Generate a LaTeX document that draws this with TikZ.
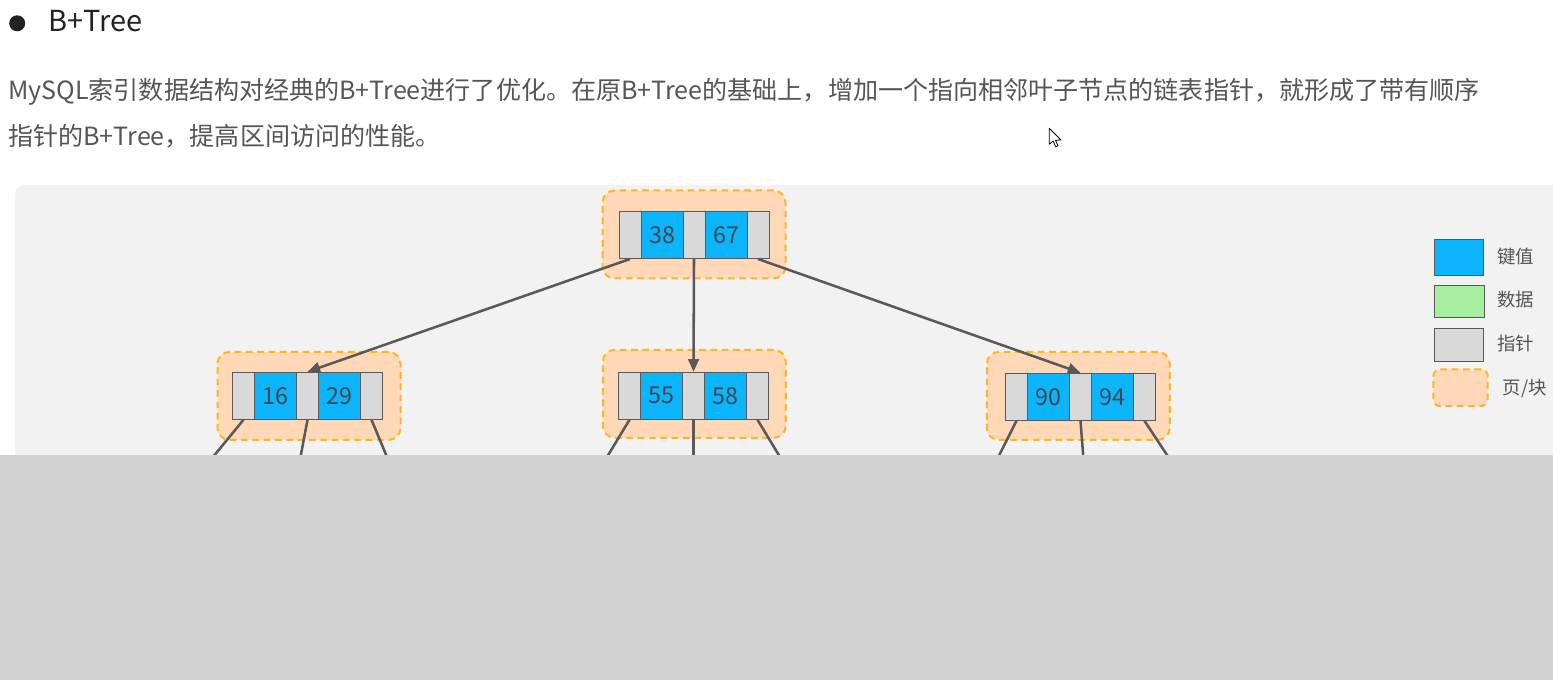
\documentclass[tikz,border=0pt]{standalone}
\usepackage{fontspec}
\setmainfont{Noto Sans CJK SC}
\usetikzlibrary{arrows.meta}
\definecolor{keyblue}{HTML}{0CB4FB}
\definecolor{ptrgray}{HTML}{D9D9D9}
\definecolor{pagefill}{HTML}{FFD9B7}
\definecolor{pageedge}{HTML}{FFB51F}
\definecolor{datagreen}{HTML}{A7EE9E}
\definecolor{linegray}{HTML}{595959}
\definecolor{panelgray}{HTML}{F2F2F2}
\definecolor{overlaygray}{HTML}{D3D3D3}
\definecolor{textgray}{HTML}{555555}
\definecolor{numgray}{HTML}{404850}
\definecolor{titlecol}{HTML}{222222}
\newcommand\btnode[7]{%
  \node[pagebox] (#1) at (#2,#3) {};
  \node[ptrcell] (#1p1) at ({#4+11},#5) {};
  \node[keycell] (#1k1) at ({#4+43},#5) {#6};
  \node[ptrcell] (#1p2) at ({#4+75},#5) {};
  \node[keycell] (#1k2) at ({#4+107},#5) {#7};
  \node[ptrcell] (#1p3) at ({#4+139},#5) {};
}
\begin{document}
\begin{tikzpicture}[x=0.75pt,y=-0.75pt,
  ptrcell/.style={draw=linegray, line width=0.75pt, fill=ptrgray, minimum width=16.5pt, minimum height=35.25pt, inner sep=0pt},
  keycell/.style={ptrcell, fill=keyblue, minimum width=31.5pt, font=\fontsize{17.5pt}{19pt}\selectfont, text=numgray},
  pagebox/.style={draw=pageedge, fill=pagefill, line width=1.5pt, dash pattern=on 5pt off 3.5pt, rounded corners=9pt, minimum width=137.25pt, minimum height=66pt, inner sep=0pt},
  link/.style={draw=linegray, line width=1.9pt},
  arr/.style={link, -{Triangle[length=9.5pt,width=8pt]}},
  legtext/.style={anchor=west, inner sep=0pt, text=textgray, font=\fontsize{13.8pt}{15pt}\selectfont},
  para/.style={anchor=base west, inner sep=0pt, text=textgray, font=\fontsize{18.8pt}{22pt}\selectfont},
]
\useasboundingbox (0,0) rectangle (1553,680);
\fill[white] (0,0) rectangle (1553,680);
% heading
\fill[titlecol] (17.2,23.3) circle (6pt);
\node[anchor=base west, inner sep=0pt, text=titlecol, font=\fontsize{21.7pt}{26pt}\selectfont] (title) at (48,32) {B+Tree};
\node[para] (line1) at (8,100) {MySQL索引数据结构对经典的B+Tree进行了优化。在原B+Tree的基础上，增加一个指向相邻叶子节点的链表指针，就形成了带有顺序};
\node[para] (line2) at (8,146) {指针的B+Tree，提高区间访问的性能。};
% cursor
\draw[fill=white, line width=0.6pt, line join=round] (1049.3,128.3) -- (1049.3,144.3) -- (1053,141) -- (1055.7,146.7) -- (1058,145.7) -- (1055.5,140.3) -- (1061,140) -- cycle;
% panel
\fill[panelgray, rounded corners=7.5pt] (15,185) rectangle (1600,480);
% tree
\btnode{r}{694}{234.5}{619}{235}{38}{67}
\btnode{a}{309}{395.9}{232.5}{395.8}{16}{29}
\btnode{b}{694.3}{393.8}{618.5}{395.8}{55}{58}
\btnode{c}{1078.3}{395.9}{1005.5}{396.8}{90}{94}
\draw[arr] (rp1.south) -- (ap2.north);
\draw[arr] (rp2.south) -- (bp2.north);
\draw[arr] (rp3.south) -- (cp2.north);
% links to the hidden leaves
\coordinate (a1) at (213,457);
\coordinate (a2) at (300.5,457);
\coordinate (a3) at (387,457);
\coordinate (b1) at (607,457);
\coordinate (b2) at (693.5,457);
\coordinate (b3) at (780,457);
\coordinate (c1) at (998.3,457);
\coordinate (c2) at (1083.3,457);
\coordinate (c3) at (1168.3,457);
\draw[link] (ap1.south) -- (a1);
\draw[link] (ap2.south) -- (a2);
\draw[link] (ap3.south) -- (a3);
\draw[link] (bp1.south) -- (b1);
\draw[link] (bp2.south) -- (b2);
\draw[link] (bp3.south) -- (b3);
\draw[link] (cp1.south) -- (c1);
\draw[link] (cp2.south) -- (c2);
\draw[link] (cp3.south) -- (c3);
% legend
\node[keycell, minimum width=37pt, minimum height=26.8pt] (lgkey) at (1458.7,257.2) {};
\node[ptrcell, fill=datagreen, minimum width=37.5pt, minimum height=24.2pt] (lgdata) at (1459,301.2) {};
\node[ptrcell, minimum width=37pt, minimum height=24.5pt] (lgptr) at (1458.7,344.7) {};
\node[pagebox, minimum width=40.8pt, minimum height=27.5pt, rounded corners=5pt] (lgpage) at (1460.5,387.7) {};
\node[legtext] (tkey) at (1497,256.7) {键值};
\node[legtext] (tdata) at (1497,300) {数据};
\node[legtext] (tptr) at (1497,343.3) {指针};
\node[legtext] (tpage) at (1502.7,388.3) {页/块};
% overlay
\fill[overlaygray] (0,455) rectangle (1553,680);
\end{tikzpicture}
\end{document}
